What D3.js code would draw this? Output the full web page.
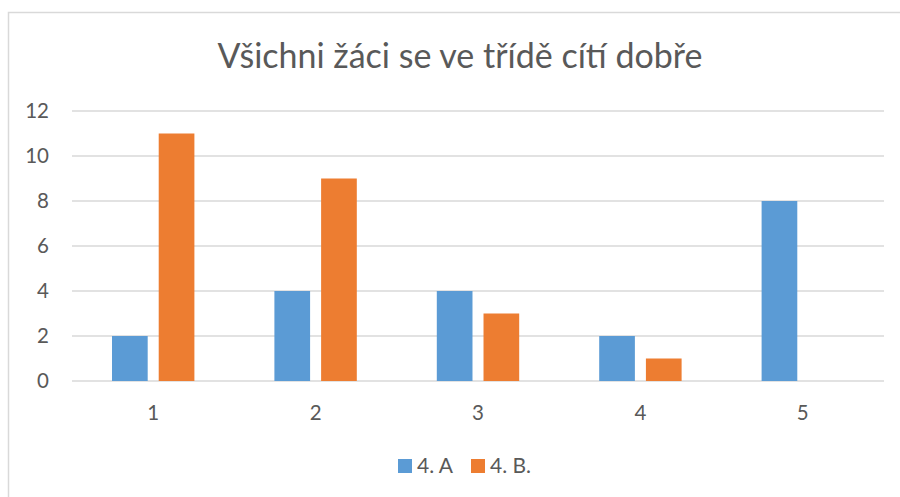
<!DOCTYPE html>
<html>
<head>
<meta charset="utf-8">
<script src="https://cdn.jsdelivr.net/npm/d3@7"></script>
<style>
  body { margin: 0; background: #fff; }
  text { font-family: Lato, "Open Sans", sans-serif; fill: #595959; }
</style>
</head>
<body>
<div id="chart"></div>
<script>
// chart data
var categories = ["1", "2", "3", "4", "5"];
var seriesNames = ["4. A", "4. B."];
var seriesA = [2, 4, 4, 2, 8];
var seriesB = [11, 9, 3, 1, 0];
var yTicks = [0, 2, 4, 6, 8, 10, 12];
var colors = ["#5B9BD5", "#ED7D31"];

var svgWidth = 900;
var svgHeight = 497;

var margin = { top: 111, right: 16, bottom: 116, left: 72 };
var width = svgWidth - margin.left - margin.right;
var height = svgHeight - margin.top - margin.bottom;

var svg = d3.select("#chart")
  .append("svg")
  .attr("width", svgWidth)
  .attr("height", svgHeight);

// chart area border (only left and top visible in the crop)
svg.append("rect")
  .attr("x", 8.5)
  .attr("y", 12.5)
  .attr("width", 1000)
  .attr("height", 1000)
  .attr("fill", "none")
  .attr("stroke", "#d9d9d9")
  .attr("stroke-width", 1.5);

// title
svg.append("text")
  .attr("x", 460)
  .attr("y", 68)
  .attr("text-anchor", "middle")
  .attr("font-size", "34px")
  .text("Všichni žáci se ve třídě cítí dobře");

var chartGroup = svg.append("g")
  .attr("transform", `translate(${margin.left}, ${margin.top})`);

var yScale = d3.scaleLinear()
  .domain([0, 12])
  .range([height, 0]);

var xScale = d3.scaleBand()
  .domain(categories)
  .range([0, width])
  .padding(0);

var groupWidth = 82.4;
var xInner = d3.scaleBand()
  .domain(seriesNames)
  .range([(xScale.bandwidth() - groupWidth) / 2, (xScale.bandwidth() + groupWidth) / 2])
  .paddingInner(0.236);

// gridlines
chartGroup.append("g")
  .selectAll("line")
  .data(yTicks)
  .enter()
  .append("line")
  .attr("x1", 0)
  .attr("x2", width)
  .attr("y1", d => yScale(d))
  .attr("y2", d => yScale(d))
  .attr("stroke", "#d9d9d9")
  .attr("stroke-width", 1.3);

// y axis labels
var leftAxis = d3.axisLeft(yScale).tickValues(yTicks).tickSize(0).tickPadding(23);
chartGroup.append("g")
  .call(leftAxis)
  .call(g => g.select(".domain").remove())
  .selectAll("text")
  .attr("font-size", "20.5px")
  .attr("font-family", "Lato, sans-serif")
  .attr("fill", "#595959");

// x axis labels
var bottomAxis = d3.axisBottom(xScale).tickSize(0).tickPadding(24);
chartGroup.append("g")
  .attr("transform", `translate(0, ${height})`)
  .call(bottomAxis)
  .call(g => g.select(".domain").remove())
  .selectAll("text")
  .attr("font-size", "20.5px")
  .attr("font-family", "Lato, sans-serif")
  .attr("fill", "#595959");

// bars
var rows = categories.map(function(c, i) {
  return { cat: c, values: [seriesA[i], seriesB[i]] };
});

var groups = chartGroup.selectAll(".cat")
  .data(rows)
  .enter()
  .append("g")
  .attr("class", "cat")
  .attr("transform", d => `translate(${xScale(d.cat)}, 0)`);

groups.selectAll("rect")
  .data(d => d.values.map((v, j) => ({ name: seriesNames[j], value: v, j: j })))
  .enter()
  .filter(d => d.value > 0)
  .append("rect")
  .attr("x", d => xInner(d.name))
  .attr("y", d => yScale(d.value))
  .attr("width", xInner.bandwidth())
  .attr("height", d => height - yScale(d.value))
  .attr("fill", d => colors[d.j]);

// legend
var legendItems = [
  { name: seriesNames[0], x: 398, color: colors[0] },
  { name: seriesNames[1], x: 471, color: colors[1] }
];
var legend = svg.append("g");
legend.selectAll("rect")
  .data(legendItems)
  .enter()
  .append("rect")
  .attr("x", d => d.x)
  .attr("y", 459)
  .attr("width", 14)
  .attr("height", 14)
  .attr("fill", d => d.color);
legend.selectAll("text")
  .data(legendItems)
  .enter()
  .append("text")
  .attr("x", d => d.x + 19)
  .attr("y", 473)
  .attr("font-size", "21px")
  .text(d => d.name);
</script>
</body>
</html>
